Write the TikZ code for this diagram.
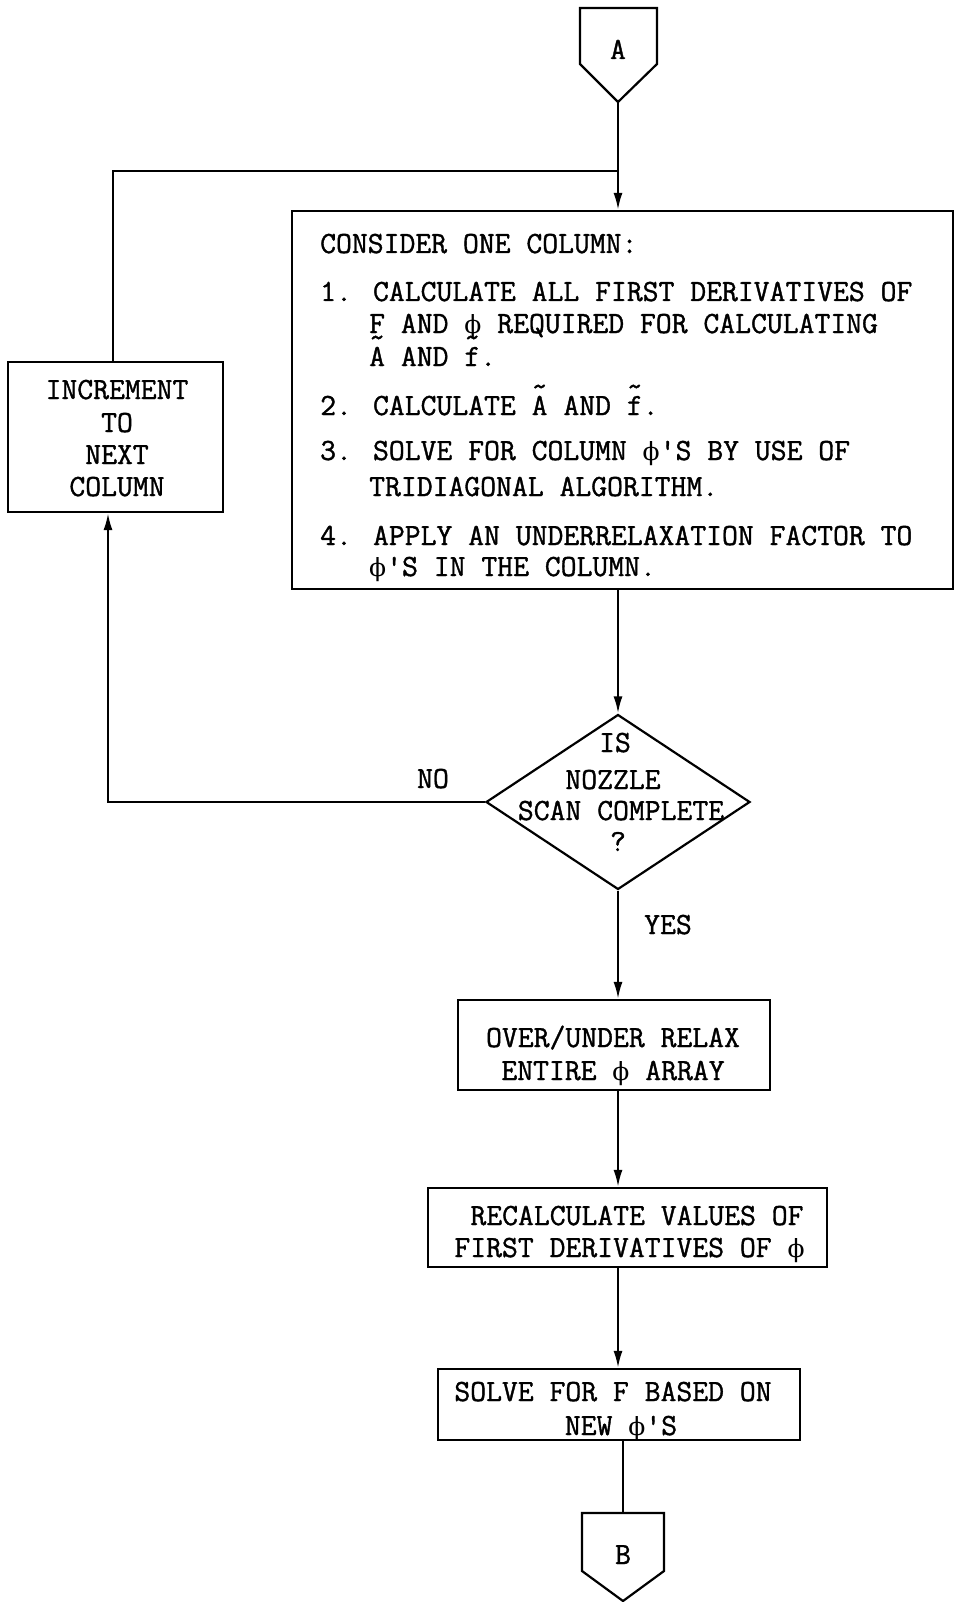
\documentclass[tikz,border=0pt]{standalone}
\usepackage{fontspec}
\usetikzlibrary{shapes.geometric,arrows.meta}
\newfontfamily\twf{lmmono12-regular.otf}[FakeBold=1.2]
\newfontfamily\phf{DejaVu Serif}
\newcommand\tw{\twf\fontsize{30.8}{36}\selectfont}
\newcommand\ph{{\phf\fontsize{25}{30}\selectfont\char"03D5}}
\newcommand\tl[1]{\ooalign{#1\cr\hidewidth\raisebox{0.62em}{\char"7E}\hidewidth\cr}}
\begin{document}
\begin{tikzpicture}[x=1pt,y=-1pt,
  every node/.style={font=\tw},
  ln/.style={line width=2.2pt},
  arr/.style={line width=2.2pt,-{Latex[length=17pt,width=9pt]}},
  box/.style={draw,line width=2.2pt,inner sep=0pt,rectangle},
  txt/.style={anchor=base,inner sep=0pt},
  txl/.style={anchor=base west,inner sep=0pt}]
\useasboundingbox (0,0) rectangle (955,1602);
% connector A
\draw[ln,line join=miter] (580,8) -- (657,8) -- (657,64) -- (618,102) -- (580,64) -- cycle;
\node[txt] (A) at (618,59) {A};
\coordinate (Ap) at (618,102);
% main box
\node[box,minimum width=661pt,minimum height=378pt] (big) at (622.5,400) {};
\node[txl] (t0) at (320,253) {CONSIDER ONE COLUMN:};
\node[txl] (t1) at (320,301) {1. CALCULATE ALL FIRST DERIVATIVES OF};
\node[txl] (t2) at (369,333) {F AND \ph\ REQUIRED FOR CALCULATING};
\node[txl] (t3) at (369,366) {\tl{A} AND \tl{f}.};
\node[txl] (t4) at (320,415) {2. CALCULATE \tl{A} AND \tl{f}.};
\node[txl] (t5) at (320,460) {3. SOLVE FOR COLUMN \ph\textquotesingle S BY USE OF};
\node[txl] (t6) at (369,496) {TRIDIAGONAL ALGORITHM.};
\node[txl] (t7) at (320,545) {4. APPLY AN UNDERRELAXATION FACTOR TO};
\node[txl] (t8) at (369,576) {\ph\textquotesingle S IN THE COLUMN.};
% increment box
\node[box,minimum width=215pt,minimum height=150pt] (inc) at (115.5,437) {};
\node[txt] (i1) at (117,399) {INCREMENT};
\node[txt] (i2) at (117,432) {TO};
\node[txt] (i3) at (117,464) {NEXT};
\node[txt] (i4) at (117,496) {COLUMN};
% decision
\node[draw,diamond,line width=2.2pt,inner sep=0pt,minimum width=264pt,minimum height=175pt] (dia) at (618,802) {};
\node[txt] (d1) at (615,752) {IS};
\node[txt] (d2) at (613,789) {NOZZLE};
\node[txt] (d3) at (621,820) {SCAN COMPLETE};
\node[txt] (d4) at (618,851) {?};
\node[txt] (no) at (433,788) {NO};
\node[txt] (yes) at (668,934) {YES};
% lower boxes
\node[box,minimum width=312pt,minimum height=90pt] (ou) at (614,1045) {};
\node[txt] (o1) at (613,1047) {OVER/UNDER RELAX};
\node[txt] (o2) at (613,1080) {ENTIRE \ph\ ARRAY};
\node[box,minimum width=399pt,minimum height=79pt] (rc) at (627.5,1227.5) {};
\node[txt] (r1) at (637,1225) {RECALCULATE VALUES OF};
\node[txt] (r2) at (629.5,1257) {FIRST DERIVATIVES OF \ph};
\node[box,minimum width=362pt,minimum height=71pt] (sv) at (619,1404.5) {};
\node[txt] (s1) at (613,1401) {SOLVE FOR F BASED ON};
\node[txt] (s2) at (621,1435) {NEW \ph\textquotesingle S};
% connector B
\draw[ln,line join=miter] (582,1513) -- (664,1513) -- (664,1571) -- (623,1601) -- (582,1571) -- cycle;
\node[txt] (B) at (623,1564) {B};
\coordinate (Bt) at (623,1513);
% connectors
\coordinate (j) at (618,171);
\coordinate (c0) at (113,171);
\coordinate (c1) at (108,802);
\draw[arr] (Ap) -- (big.north -| Ap);
\draw[ln] (inc.north -| c0) -- (c0) -- (j);
\draw[arr] (big.south -| dia.north) -- (dia.north);
\draw[arr] (dia.west) -- (c1) -- (c1 |- inc.south);
\draw[arr] (dia.south) -- (dia.south |- ou.north);
\draw[arr] (ou.south -| dia.south) -- (rc.north -| dia.south);
\draw[arr] (rc.south -| dia.south) -- (sv.north -| dia.south);
\draw[ln] (sv.south -| Bt) -- (Bt);
\end{tikzpicture}
\end{document}
